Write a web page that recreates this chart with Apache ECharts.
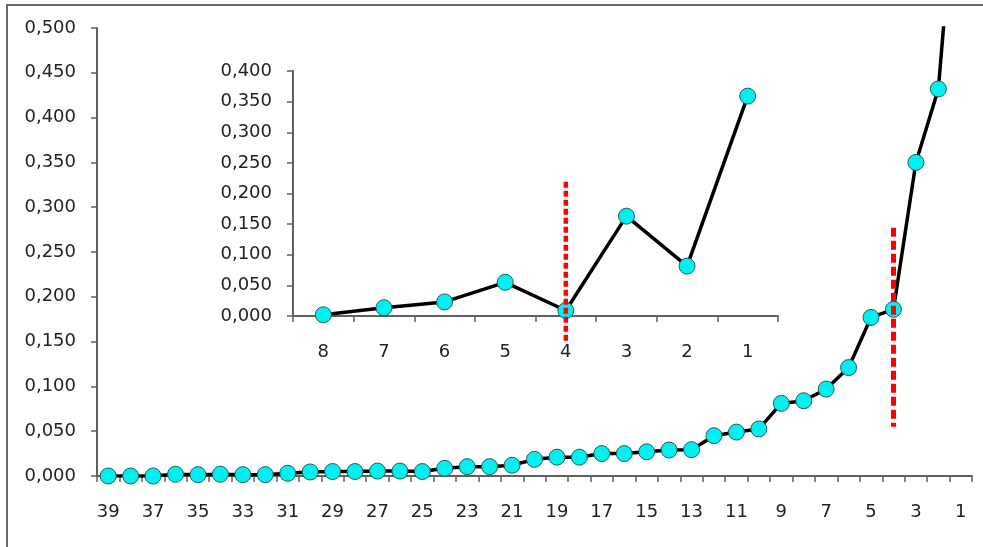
<!DOCTYPE html>
<html>
<head>
<meta charset="utf-8">
<script src="https://cdn.jsdelivr.net/npm/echarts@6/dist/echarts.min.js"></script>
<style>
  html, body { margin: 0; padding: 0; background: #fff; }
  #chart { width: 983px; height: 547px; }
</style>
</head>
<body>
<div id="chart"></div>
<script>
// main series: categories 39 .. 1
const mainCategories = ["39", "38", "37", "36", "35", "34", "33", "32", "31", "30",
  "29", "28", "27", "26", "25", "24", "23", "22", "21", "20",
  "19", "18", "17", "16", "15", "14", "13", "12", "11", "10",
  "9", "8", "7", "6", "5", "4", "3", "2", "1"]
const mainValues = [0.000, 0.000, 0.000, 0.002, 0.0015, 0.002, 0.0015, 0.0015, 0.003, 0.0045,
  0.005, 0.005, 0.0055, 0.0055, 0.005, 0.0086, 0.0104, 0.0104, 0.012, 0.0186,
  0.021, 0.021, 0.025, 0.025, 0.027, 0.029, 0.0294, 0.045, 0.049, 0.0525,
  0.081, 0.084, 0.097, 0.121, 0.177, 0.186, 0.350, 0.432, 0.73]
const mainCut = [["4", 0.277], ["4", 0.055]]

// inset series: categories 8 .. 1
const insetCategories = ["8", "7", "6", "5", "4", "3", "2", "1"]
const insetValues = [0.002, 0.0135, 0.023, 0.055, 0.009, 0.163, 0.0815, 0.359]
const insetCut = [["4", 0.219], ["4", -0.042]]

const fontName = "DejaVu Sans"
const axisGray = "#606060"

function fmt(v) {
  return v.toFixed(3).replace(".", ",")
}

function xAxisFor(grid, cats, labelInterval) {
  return {
    type: "category",
    gridIndex: grid,
    data: cats,
    boundaryGap: true,
    axisLine: { show: true, lineStyle: { color: axisGray, width: 2 } },
    axisTick: { show: true, interval: 0, length: 6, lineStyle: { color: axisGray, width: 1.5 } },
    axisLabel: { interval: labelInterval, margin: 27, color: "#222", fontFamily: fontName, fontSize: 18 },
    splitLine: { show: false }
  }
}

function yAxisFor(grid, max) {
  return {
    type: "value",
    gridIndex: grid,
    min: 0,
    max: max,
    interval: 0.05,
    axisLine: { show: true, lineStyle: { color: axisGray, width: 2 } },
    axisTick: { show: true, length: 6, lineStyle: { color: axisGray, width: 1.5 } },
    axisLabel: { margin: 21, color: "#222", fontFamily: fontName, fontSize: 18, formatter: fmt },
    splitLine: { show: false }
  }
}

const dotStyle = { color: "#00f0f0", borderColor: "#2a5a5a", borderWidth: 1 }

const myChart = echarts.init(document.getElementById("chart"))

const option = {
  animation: false,
  backgroundColor: "#fff",
  graphic: [
    {
      type: "rect",
      shape: { x: 7, y: 5, width: 1100, height: 700 },
      style: { fill: "none", stroke: "#6a6a6a", lineWidth: 2 },
      silent: true
    }
  ],
  grid: [
    { left: 97, right: 11, top: 28, bottom: 71 },
    { left: 293, right: 205, top: 71, bottom: 231 }
  ],
  xAxis: [xAxisFor(0, mainCategories, 1), xAxisFor(1, insetCategories, 0)],
  yAxis: [yAxisFor(0, 0.5), yAxisFor(1, 0.4)],
  series: [
    {
      type: "line",
      xAxisIndex: 0,
      yAxisIndex: 0,
      data: mainValues,
      symbol: "circle",
      symbolSize: 16,
      showSymbol: true,
      showAllSymbol: true,
      lineStyle: { color: "#000", width: 3.5 },
      itemStyle: dotStyle,
      z: 3
    },
    {
      type: "line",
      xAxisIndex: 0,
      yAxisIndex: 0,
      data: mainCut,
      symbol: "none",
      lineStyle: { color: "#ff0000", width: 5, type: [9, 4] },
      z: 5
    },
    {
      type: "line",
      xAxisIndex: 1,
      yAxisIndex: 1,
      data: insetValues,
      symbol: "circle",
      symbolSize: 16,
      showSymbol: true,
      showAllSymbol: true,
      lineStyle: { color: "#000", width: 3.5 },
      itemStyle: dotStyle,
      z: 3
    },
    {
      type: "line",
      xAxisIndex: 1,
      yAxisIndex: 1,
      data: insetCut,
      symbol: "none",
      clip: false,
      lineStyle: { color: "#ff0000", width: 4.5, type: [6, 3] },
      z: 5
    }
  ]
}
myChart.setOption(option, true)
</script>
</body>
</html>
